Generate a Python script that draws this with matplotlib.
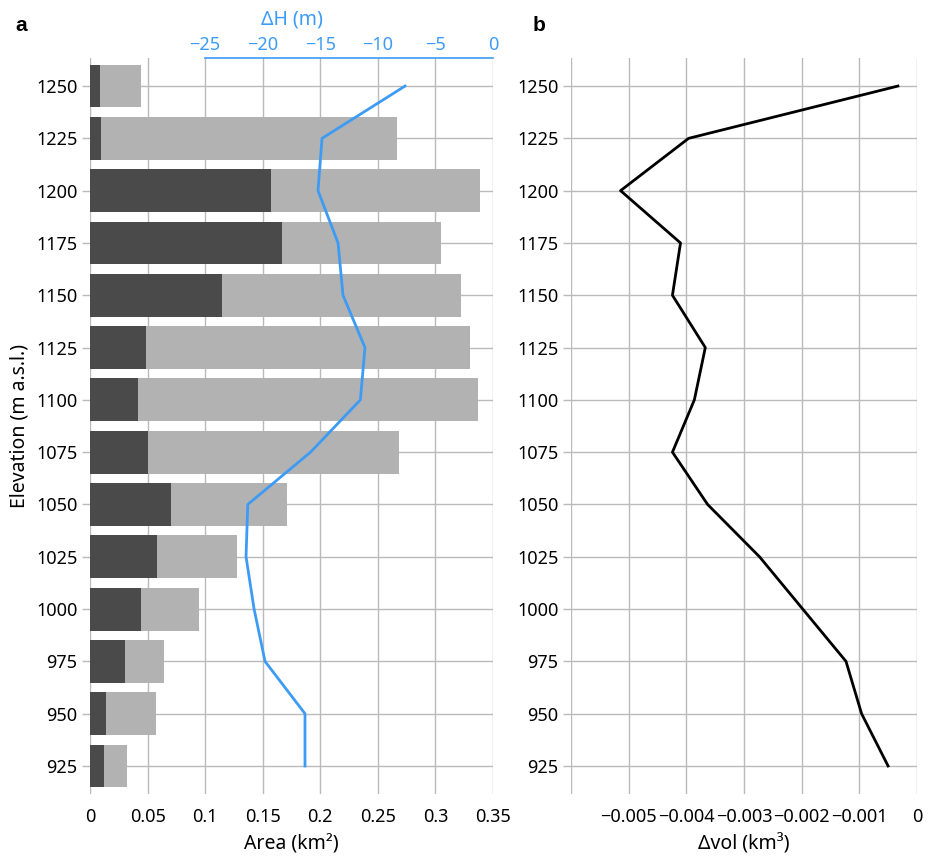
import numpy as np
import matplotlib.pyplot as plt

plt.rcParams['font.family'] = ['Noto Sans', 'DejaVu Sans']

# Data
elevation = [1250, 1225, 1200, 1175, 1150, 1125, 1100, 1075, 1050, 1025, 1000, 975, 950, 925]
area_dark = [0.0087, 0.0095, 0.157, 0.1668, 0.1146, 0.0486, 0.0417, 0.0504, 0.0703, 0.0582, 0.0443, 0.0304, 0.0139, 0.0122]
area_total = [0.0443, 0.2666, 0.3387, 0.305, 0.3222, 0.330, 0.337, 0.2684, 0.1711, 0.1277, 0.0947, 0.0643, 0.0573, 0.0321]
dH = [-7.64, -14.85, -15.2, -13.46, -13.03, -11.12, -11.52, -15.85, -21.3, -21.45, -20.75, -19.8, -16.33, -16.33]
dvol = [-0.00033, -0.00396, -0.00514, -0.0041, -0.00424, -0.00367, -0.00386, -0.00424,
        -0.00363, -0.00273, -0.00198, -0.00123, -0.00096, -0.0005]

area_ticks = [0, 0.05, 0.1, 0.15, 0.2, 0.25, 0.3, 0.35]
area_labels = ['0', '0.05', '0.1', '0.15', '0.2', '0.25', '0.3', '0.35']
dh_ticks = [-25, -20, -15, -10, -5, 0]
vol_ticks = [-0.006, -0.005, -0.004, -0.003, -0.002, -0.001, 0]
vol_labels = ['', '\u22120.005', '\u22120.004', '\u22120.003', '\u22120.002', '\u22120.001', '0']

grid_col = '#bababa'
blue = '#3d9bf5'

fig = plt.figure(figsize=(9.29, 8.57), dpi=100)
ax1 = fig.add_axes([0.0969, 0.0735, 0.4338, 0.8588])
ax2 = fig.add_axes([0.6146, 0.0735, 0.3724, 0.8588])

ylim = (911.6, 1263.4)


def style(ax):
    for s in ax.spines.values():
        s.set_visible(False)
    ax.set_axisbelow(True)
    ax.grid(True, color=grid_col, linewidth=1)
    ax.set_yticks(elevation)
    ax.set_ylim(*ylim)
    ax.tick_params(axis='y', length=6, width=1, color=grid_col, pad=3, labelsize=13)
    ax.tick_params(axis='x', length=0, pad=10, labelsize=13)


# Panel a
style(ax1)
ax1.barh(elevation, area_total, height=20.5, color='#b2b2b2', zorder=2)
ax1.barh(elevation, area_dark, height=20.5, color='#4a4a4a', zorder=3)
ax1.set_xlim(0, 0.35)
ax1.set_xticks(area_ticks)
ax1.set_xticklabels(area_labels)
ax1.set_xlabel('Area (km²)', fontsize=14, labelpad=6)
ax1.set_ylabel('Elevation (m a.s.l.)', fontsize=14, labelpad=5)

axt = ax1.twiny()
axt.plot(dH, elevation, color=blue, linewidth=2, zorder=4)
axt.set_xlim(-35, 0)
axt.set_ylim(*ylim)
axt.set_xticks(dh_ticks)
for name, s in axt.spines.items():
    s.set_visible(name == 'top')
axt.spines['top'].set_color(blue)
axt.spines['top'].set_linewidth(1.2)
axt.spines['top'].set_bounds(-25, 0)
axt.tick_params(axis='x', length=0, pad=3, labelsize=13, labelcolor=blue)
axt.set_xlabel('ΔH (m)', fontsize=14, color=blue, labelpad=8)

# Panel b
style(ax2)
ax2.plot(dvol, elevation, color='black', linewidth=2, zorder=3)
ax2.set_xlim(-0.006, 0)
ax2.set_xticks(vol_ticks)
ax2.set_xticklabels(vol_labels)
ax2.set_xlabel('Δvol (km³)', fontsize=14, labelpad=6)

fig.text(0.017, 0.97, 'a', fontsize=15, fontweight='bold', family='Liberation Sans', va='center')
fig.text(0.573, 0.97, 'b', fontsize=15, fontweight='bold', family='Liberation Sans', va='center')

fig.savefig('out.png', dpi=100)
